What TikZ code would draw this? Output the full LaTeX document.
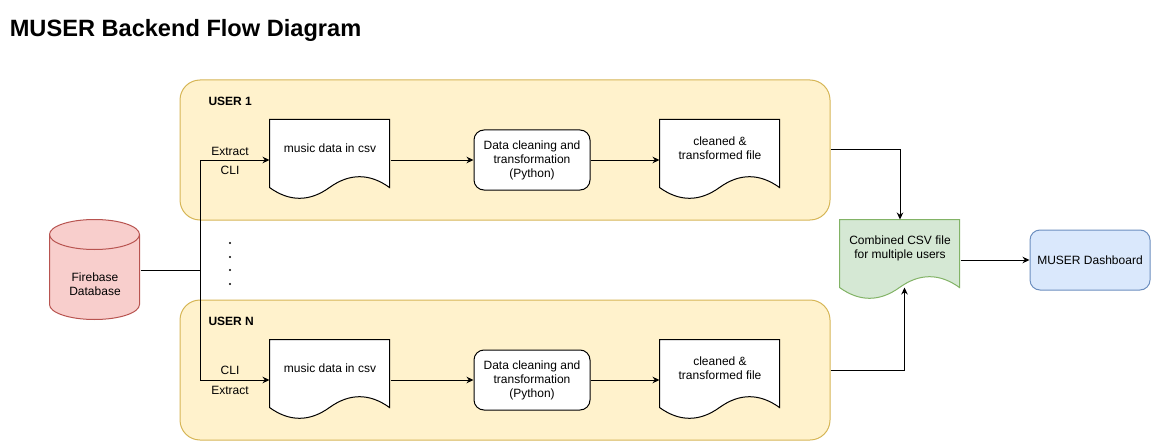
\documentclass[tikz,border=0pt]{standalone}
\usepackage{fontspec}
\setmainfont{Liberation Sans}
\usetikzlibrary{arrows.meta,positioning,calc}
\definecolor{userfill}{HTML}{FFF2CC}
\definecolor{userline}{HTML}{D6B656}
\definecolor{dbfill}{HTML}{F8CECC}
\definecolor{dbline}{HTML}{B85450}
\definecolor{combfill}{HTML}{D5E8D4}
\definecolor{combline}{HTML}{82B366}
\definecolor{dashfill}{HTML}{DAE8FC}
\definecolor{dashline}{HTML}{6C8EBF}
\newcommand{\docoutline}[2]{%
	\begin{scope}[shift={(#1.north west)}]
		\draw[#2] (0,0) -- (120,0) -- (120,68) .. controls (100,53.6) and (80,53.6) .. (60,68)
			.. controls (40,82.4) and (20,82.4) .. (0,68) -- cycle;
	\end{scope}}

\begin{document}
\begin{tikzpicture}[x=1pt, y=-1pt, line width=1pt]
	\tikzstyle{txt} = [font=\fontsize{12}{14}\selectfont, align=center, inner sep=0pt]
	\tikzstyle{group} = [rectangle, rounded corners=20pt, minimum width=650pt, minimum height=140pt, fill=userfill, draw=userline]
	\tikzstyle{grouplbl} = [font=\bfseries\fontsize{12}{14}\selectfont, anchor=west, inner sep=0pt]
	\tikzstyle{docbox} = [rectangle, minimum width=120pt, minimum height=80pt, inner sep=0pt]
	\tikzstyle{process} = [rectangle, rounded corners=10pt, minimum width=116pt, minimum height=60pt, draw=black, fill=white, txt]
	\tikzstyle{arrow} = [-{Stealth[length=7pt,width=6.5pt]}]
	\useasboundingbox (0,0) rectangle (1151,441);

	\node (title) [anchor=base west, font=\bfseries\fontsize{23.6}{28}\selectfont] at (6,37) {MUSER Backend Flow Diagram};

	% user containers
	\node (user1) [group] at (505,150) {};
	\node (userN) [group] at (505,370) {};
	\node (user1lbl) [grouplbl] at (208,101) {USER 1};
	\node (userNlbl) [grouplbl] at (208,321) {USER N};

	% firebase database
	\node (db) [docbox, minimum width=90pt, minimum height=100pt] at (95,270) {};
	\begin{scope}[shift={(db.north west)}]
		\draw[draw=dbline, fill=dbfill] (0,15) -- (0,85) .. controls (0,93.3) and (20.1,100) .. (45,100)
			.. controls (69.9,100) and (90,93.3) .. (90,85) -- (90,15) .. controls (90,6.7) and (69.9,0) .. (45,0)
			.. controls (20.1,0) and (0,6.7) .. (0,15) -- cycle;
		\draw[draw=dbline] (0,15) .. controls (0,23.3) and (20.1,30) .. (45,30) .. controls (69.9,30) and (90,23.3) .. (90,15);
	\end{scope}
	\node (dbtxt) [txt] at (95,284) {Firebase\\Database};

	% user 1 row
	\node (raw1) [docbox] at (330,160) {};
	\docoutline{raw1}{draw=black, fill=white}
	\node (raw1txt) [txt] at ($(raw1.north)+(0,29)$) {music data in csv};
	\node (clean1) [process] at (532,160) {Data cleaning and\\transformation\\(Python)};
	\node (out1) [docbox] at (720,160) {};
	\docoutline{out1}{draw=black, fill=white}
	\node (out1txt) [txt] at ($(out1.north)+(0,29)$) {cleaned \&\\transformed file};

	% user N row
	\node (rawN) [docbox] at (330,380) {};
	\docoutline{rawN}{draw=black, fill=white}
	\node (rawNtxt) [txt] at ($(rawN.north)+(0,29)$) {music data in csv};
	\node (cleanN) [process] at (532,380) {Data cleaning and\\transformation\\(Python)};
	\node (outN) [docbox] at (720,380) {};
	\docoutline{outN}{draw=black, fill=white}
	\node (outNtxt) [txt] at ($(outN.north)+(0,29)$) {cleaned \&\\transformed file};

	% combined file and dashboard
	\node (comb) [docbox] at (900,260) {};
	\docoutline{comb}{draw=combline, fill=combfill}
	\node (combtxt) [txt] at ($(comb.north)+(0,29)$) {Combined CSV file\\for multiple users};
	\node (dash) [rectangle, rounded corners=10pt, minimum width=120pt, minimum height=60pt, draw=dashline, fill=dashfill, txt] at (1090,260) {MUSER Dashboard};

	\node (ext1) [txt] at (230,151) {Extract};
	\node (cli1) [txt] at (230,170) {CLI};
	\node (cliN) [txt] at (230,370) {CLI};
	\node (extN) [txt] at (230,390) {Extract};
	\foreach \y in {243,257,270,284}
		\fill (230,\y) circle (1.1pt);

	\coordinate (split) at (200,270);
	\coordinate (combin) at ($(comb.north west)+(65,68)$);
	\draw (db.east) -- (split);
	\draw [arrow] (split) |- (raw1.west);
	\draw [arrow] (split) |- (rawN.west);
	\draw [arrow] (raw1.east) -- (clean1.west);
	\draw [arrow] (clean1.east) -- (out1.west);
	\draw [arrow] (rawN.east) -- (cleanN.west);
	\draw [arrow] (cleanN.east) -- (outN.west);
	\draw [arrow] (user1.east) -| (comb.north);
	\draw [arrow] (userN.east) -| (combin);
	\draw [arrow] (comb.east) -- (dash.west);
\end{tikzpicture}
\end{document}
